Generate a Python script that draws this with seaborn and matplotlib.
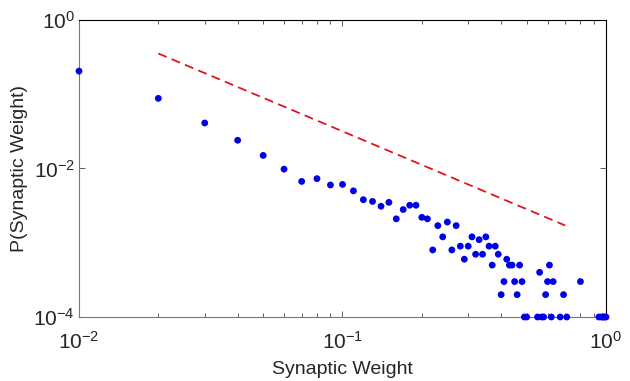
import numpy as np
import pandas as pd
import matplotlib
matplotlib.use('Agg')
import matplotlib.pyplot as plt
import seaborn as sns

# histogram of synaptic weights (bin centre, probability)
weight = [0.01, 0.02, 0.03, 0.04, 0.05, 0.06, 0.07, 0.08, 0.09, 0.10,
          0.11, 0.12, 0.13, 0.14, 0.15, 0.16, 0.17, 0.18, 0.19, 0.20,
          0.21, 0.22, 0.23, 0.24, 0.25, 0.26, 0.27, 0.28, 0.29, 0.30,
          0.31, 0.32, 0.33, 0.34, 0.35, 0.36, 0.37, 0.38, 0.39, 0.40,
          0.41, 0.42, 0.43, 0.44, 0.45, 0.46, 0.47, 0.48, 0.49, 0.50,
          0.55, 0.56, 0.57, 0.58, 0.59, 0.60, 0.61, 0.62, 0.63,
          0.67, 0.69, 0.71, 0.80,
          0.94, 0.96, 0.97, 0.98, 0.99, 1.00]
prob = [0.205, 0.088, 0.041, 0.024, 0.015, 0.0098, 0.0067, 0.0073, 0.0060, 0.0061,
        0.0050, 0.0038, 0.0036, 0.0031, 0.0035, 0.0021, 0.0028, 0.0032, 0.0032, 0.0022,
        0.0021, 0.0008, 0.0017, 0.0012, 0.0019, 0.0008, 0.0017, 0.0009, 0.0006, 0.0009,
        0.0012, 0.0007, 0.0011, 0.0007, 0.0012, 0.0009, 0.0005, 0.0009, 0.0007, 0.0002,
        0.0003, 0.0006, 0.0005, 0.0005, 0.0003, 0.0002, 0.0005, 0.0003, 0.0001, 0.0001,
        0.0001, 0.0004, 0.0001, 0.0001, 0.0002, 0.0003, 0.0005, 0.0001, 0.0003,
        0.0001, 0.0002, 0.0001, 0.0003,
        0.0001, 0.0001, 0.0001, 0.0001, 0.0001, 0.0001]

# power-law guide line (slope -1.5)
fit_x = [0.02, 0.7]
fit_y = [0.354, 0.00171]

df = pd.DataFrame({'w': weight, 'p': prob})
fit = pd.DataFrame({'w': fit_x, 'p': fit_y})

sns.set_style('white')
plt.rcParams['font.family'] = ['Liberation Sans', 'DejaVu Sans']
plt.rcParams['mathtext.fontset'] = 'custom'
plt.rcParams['mathtext.rm'] = 'Liberation Sans'

fig = plt.figure(figsize=(6.3, 3.81), dpi=100)
ax = fig.add_axes([0.1254, 0.168, 0.8365, 0.7795])

sns.lineplot(data=fit, x='w', y='p', ax=ax, color='#e0141e', linestyle=(0, (5, 3)), linewidth=1.3)
sns.scatterplot(data=df, x='w', y='p', ax=ax, color='#0000e6', marker='o', s=24,
                edgecolor='none', clip_on=False, zorder=3)

ax.set_xscale('log')
ax.set_yscale('log')
ax.set_xlim(0.01, 1)
ax.set_ylim(1e-4, 1)
ax.set_xticks([0.01, 0.1, 1])
ax.xaxis.set_minor_locator(matplotlib.ticker.LogLocator(base=10, subs=range(2, 10)))
ax.xaxis.set_minor_formatter(matplotlib.ticker.NullFormatter())
ax.set_yticks([1e-4, 1e-2, 1])
ax.yaxis.set_minor_locator(matplotlib.ticker.NullLocator())
ax.tick_params(which='both', direction='in', top=True, right=True, bottom=True, left=True,
               labelsize=15, color='#444444')
ax.tick_params(which='major', length=4, width=0.6)
ax.tick_params(which='minor', length=3, width=0.6)
ax.tick_params(axis='x', pad=10)
ax.tick_params(axis='y', pad=3)

for side in ['left', 'bottom']:
    ax.spines[side].set_color('#777777')
for side in ['top', 'right']:
    ax.spines[side].set_color('black')
for s in ax.spines.values():
    s.set_linewidth(0.8)

ax.set_xlabel('Synaptic Weight', fontsize=14, labelpad=6)
ax.set_ylabel('P(Synaptic Weight)', fontsize=14, labelpad=4)

plt.savefig('out.png', dpi=100)
